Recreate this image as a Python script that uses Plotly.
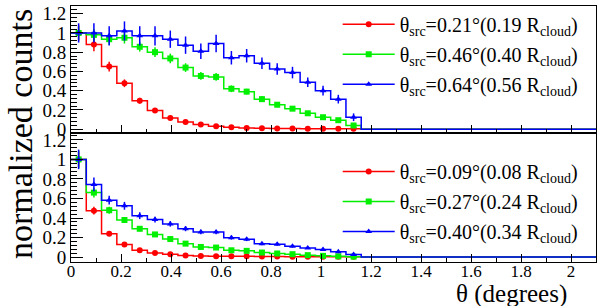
import numpy as np
import plotly.graph_objects as go

# ---------------- data ----------------
bin_width = 0.0611
n_bins = 19
x_end = 2.1

top_labels = ["θ<sub>src</sub>=0.21°(0.19 R<sub>cloud</sub>)",
              "θ<sub>src</sub>=0.46°(0.40 R<sub>cloud</sub>)",
              "θ<sub>src</sub>=0.64°(0.56 R<sub>cloud</sub>)"]
bot_labels = ["θ<sub>src</sub>=0.09°(0.08 R<sub>cloud</sub>)",
              "θ<sub>src</sub>=0.27°(0.24 R<sub>cloud</sub>)",
              "θ<sub>src</sub>=0.40°(0.34 R<sub>cloud</sub>)"]

top_red = [1.0, 0.88, 0.65, 0.477, 0.296, 0.193, 0.117, 0.075, 0.048, 0.031,
           0.02, 0.013, 0.01, 0.008, 0.007, 0.005, 0.004, 0.004, 0.003]
top_green = [1.0, 0.98, 0.935, 0.95, 0.856, 0.80, 0.735, 0.64, 0.553, 0.543,
             0.42, 0.39, 0.312, 0.254, 0.213, 0.165, 0.124, 0.093, 0.038]
top_blue = [1.0, 1.0, 0.97, 1.02, 0.97, 0.97, 0.935, 0.873, 0.81, 0.89,
            0.742, 0.763, 0.684, 0.625, 0.588, 0.488, 0.40, 0.312, 0.124]
top_red_err = [0.08, 0.07, 0.05, 0.04, 0.03, 0.025, 0.02, 0.015, 0.012, 0.01,
               0.008, 0.007, 0.006, 0.005, 0.005, 0.004, 0.004, 0.004, 0.003]
top_green_err = [0.07, 0.06, 0.06, 0.06, 0.05, 0.05, 0.05, 0.045, 0.04, 0.04,
                 0.035, 0.03, 0.03, 0.025, 0.025, 0.02, 0.02, 0.02, 0.015]
top_blue_err = [0.1, 0.1, 0.1, 0.1, 0.1, 0.1, 0.09, 0.09, 0.08, 0.09,
                0.07, 0.07, 0.06, 0.06, 0.06, 0.05, 0.05, 0.045, 0.04]

bot_red = [1.0, 0.475, 0.24, 0.13, 0.07, 0.043, 0.03, 0.017, 0.012, 0.01,
           0.009, 0.008, 0.007, 0.006, 0.005, 0.005, 0.004, 0.004, 0.003]
bot_green = [1.0, 0.66, 0.48, 0.38, 0.29, 0.232, 0.185, 0.138, 0.104, 0.098,
             0.07, 0.064, 0.047, 0.037, 0.03, 0.02, 0.013, 0.008, 0.005]
bot_blue = [1.0, 0.744, 0.583, 0.525, 0.424, 0.384, 0.34, 0.29, 0.256, 0.256,
            0.199, 0.182, 0.138, 0.131, 0.111, 0.094, 0.078, 0.054, 0.027]
bot_red_err = [0.08, 0.04, 0.02, 0.012, 0.008, 0.006, 0.005, 0.004, 0.003, 0.003,
               0.003, 0.003, 0.002, 0.002, 0.002, 0.002, 0.002, 0.002, 0.002]
bot_green_err = [0.09, 0.05, 0.035, 0.03, 0.025, 0.02, 0.018, 0.015, 0.013, 0.012,
                 0.01, 0.01, 0.008, 0.007, 0.006, 0.005, 0.004, 0.003, 0.003]
bot_blue_err = [0.1, 0.07, 0.045, 0.04, 0.035, 0.03, 0.028, 0.025, 0.023, 0.022,
                0.02, 0.018, 0.016, 0.015, 0.013, 0.012, 0.01, 0.009, 0.008]

colors = ["#ff0000", "#00f000", "#0000ff"]
symbols = ["circle", "square", "triangle-up"]

# ---------------- figure ----------------
edges = np.arange(n_bins + 1) * bin_width
centers = (edges[:-1] + edges[1:]) / 2
step_x = list(edges) + [x_end]

fig = go.Figure()
FONT = "Liberation Serif"

panels = [
    ("x", "y", "legend", top_labels, [top_red, top_green, top_blue],
     [top_red_err, top_green_err, top_blue_err]),
    ("x2", "y2", "legend2", bot_labels, [bot_red, bot_green, bot_blue],
     [bot_red_err, bot_green_err, bot_blue_err]),
]

for xa, ya, lg, labels, vals, errs in panels:
    for k in range(3):
        v = vals[k]
        fig.add_trace(go.Scatter(
            x=step_x, y=list(v) + [0, 0], mode="lines", line_shape="hv",
            line=dict(color=colors[k], width=1.5), xaxis=xa, yaxis=ya,
            showlegend=False, hoverinfo="skip"))
        fig.add_trace(go.Scatter(
            x=centers, y=v, mode="markers",
            marker=dict(color=colors[k], symbol=symbols[k], size=6),
            error_y=dict(type="data", array=errs[k], color=colors[k],
                         thickness=1.5, width=0),
            xaxis=xa, yaxis=ya, showlegend=False))
        fig.add_trace(go.Scatter(
            x=[None], y=[None], mode="lines+markers", name=labels[k],
            line=dict(color=colors[k], width=1.5),
            marker=dict(color=colors[k], symbol=symbols[k], size=6),
            xaxis=xa, yaxis=ya, legend=lg, legendgroup=lg + str(k),
            showlegend=True))

split = (262 - 132) / 258.0

axis_common = dict(showline=True, linecolor="black", linewidth=1, mirror=True,
                   showgrid=False, zeroline=False, ticks="inside",
                   tickcolor="black",
                   tickfont=dict(family=FONT, size=17, color="black"))
minor_x = dict(dtick=0.1, ticklen=4, ticks="inside", tickcolor="black")
minor_y = dict(dtick=0.04, ticklen=6, ticks="inside", tickcolor="black")
legend_common = dict(xanchor="left", yanchor="top", bgcolor="rgba(0,0,0,0)",
                     font=dict(family=FONT, size=20, color="black"),
                     tracegroupgap=1, itemwidth=52)

fig.update_layout(
    width=600, height=306,
    margin=dict(l=71, r=3, t=4, b=44),
    paper_bgcolor="white", plot_bgcolor="white",
    font=dict(family=FONT, color="black"),
    xaxis=dict(axis_common, domain=[0, 1], range=[0, x_end], anchor="y",
               showticklabels=False, dtick=0.2, tick0=0, ticklen=8, minor=minor_x),
    xaxis2=dict(axis_common, domain=[0, 1], range=[0, x_end], anchor="y2",
                matches="x", dtick=0.2, tick0=0, ticklen=8, minor=minor_x,
                ticklabelstandoff=-6),
    yaxis=dict(axis_common, domain=[split, 1], range=[-0.04, 1.28], anchor="x",
               dtick=0.2, tick0=0, ticklen=12,
               tickfont=dict(family=FONT, size=19, color="black"), minor=minor_y),
    yaxis2=dict(axis_common, domain=[0, split], range=[-0.05, 1.27], anchor="x2",
                dtick=0.2, tick0=0, ticklen=12,
                tickfont=dict(family=FONT, size=19, color="black"), minor=minor_y),
    legend=dict(legend_common, x=0.508, y=1.005),
    legend2=dict(legend_common, x=0.508, y=0.43),
    annotations=[
        dict(text="normalized counts", xref="paper", yref="paper",
             x=-0.097, y=0.5, xanchor="center", yanchor="middle", textangle=-90,
             showarrow=False, font=dict(family=FONT, size=34, color="black")),
        dict(text="θ (degrees)", xref="paper", yref="paper",
             x=0.949, y=-0.124, xanchor="right", yanchor="middle",
             showarrow=False, font=dict(family=FONT, size=25, color="black")),
    ],
)

fig.write_html("out.html", config={"displayModeBar": False},
               post_script="document.body.style.margin='0px';")
